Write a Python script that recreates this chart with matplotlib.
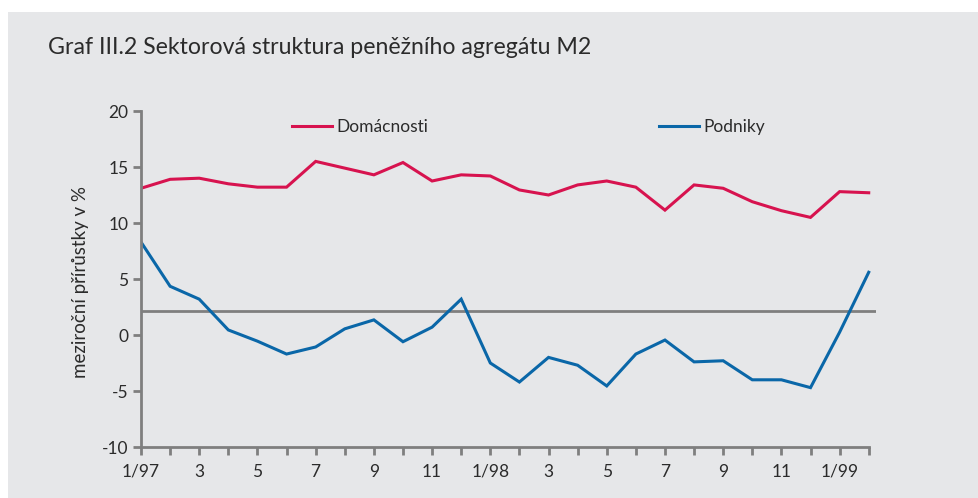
import matplotlib
matplotlib.use("Agg")
import matplotlib.pyplot as plt
from matplotlib.patches import Rectangle
from matplotlib.lines import Line2D

# months 1/97 .. 2/99
months = list(range(26))
tick_labels = ["1/97", "", "3", "", "5", "", "7", "", "9", "", "11", "",
               "1/98", "", "3", "", "5", "", "7", "", "9", "", "11", "",
               "1/99", ""]

domacnosti = [13.1, 13.9, 14.0, 13.5, 13.2, 13.2, 15.5, 14.9, 14.3, 15.4,
              13.75, 14.3, 14.2, 12.95, 12.5, 13.4, 13.75, 13.2, 11.15, 13.4,
              13.1, 11.9, 11.1, 10.5, 12.8, 12.7]
podniky = [8.3, 4.35, 3.2, 0.45, -0.55, -1.7, -1.07, 0.55, 1.35, -0.6,
           0.7, 3.2, -2.5, -4.2, -2.0, -2.7, -4.55, -1.7, -0.45, -2.4,
           -2.3, -4.0, -4.0, -4.7, 0.25, 5.6]
prumer = 2.1

bg = "#e6e7e9"
red = "#d7134f"
blue = "#0a67a8"
axcol = "#7f7f7f"
txt = "#2b2b2b"

plt.rcParams["font.family"] = ["Lato", "DejaVu Sans"]
plt.rcParams["axes.unicode_minus"] = False

fig = plt.figure(figsize=(9.79, 4.98), dpi=100, facecolor="white")
fig.patches.append(Rectangle((8 / 979, 0), 1, (498 - 12) / 498,
                             transform=fig.transFigure, facecolor=bg,
                             edgecolor="none", zorder=-10))

ax = fig.add_axes([141 / 979, 51 / 498, (876 - 141) / 979, (447 - 111) / 498])
ax.set_facecolor("none")

ax.axhline(prumer, color=axcol, linewidth=2)
ax.plot(months, domacnosti, color=red, linewidth=2.2, solid_joinstyle="miter")
ax.plot(months, podniky, color=blue, linewidth=2.2, solid_joinstyle="miter")

ax.set_xlim(0, 25.25)
ax.set_ylim(-10, 20)
ax.set_yticks([-10, -5, 0, 5, 10, 15, 20])
ax.set_xticks(months)
ax.set_xticklabels(tick_labels)

for s in ["top", "right"]:
    ax.spines[s].set_visible(False)
for s in ["left", "bottom"]:
    ax.spines[s].set_color(axcol)
    ax.spines[s].set_linewidth(2)
ax.spines["bottom"].set_bounds(0, 25)
ax.tick_params(axis="both", colors=axcol, width=2, length=6, labelcolor=txt,
               labelsize=12.5)
ax.tick_params(axis="x", pad=6)
ax.tick_params(axis="y", pad=3)

ax.set_ylabel("meziroční přírůstky v %", fontsize=13.5, color=txt)
ax.yaxis.set_label_coords(-0.071, 0.49)

handles = [Line2D([], [], color=red, linewidth=2.2),
           Line2D([], [], color=blue, linewidth=2.2)]
leg = ax.legend(handles, ["Domácnosti", "Podniky"], ncol=2, frameon=False,
                loc="center left", bbox_to_anchor=(0.2054, 0.953),
                borderpad=0, borderaxespad=0,
                fontsize=12.5, handlelength=2.3, handletextpad=0.25,
                columnspacing=13.3, labelcolor=txt)

fig.text(48 / 979, 1 - 48 / 498, "Graf III.2 Sektorová struktura peněžního agregátu M2",
         fontsize=16.7, color=txt, va="center", ha="left")

fig.savefig("out.png", dpi=100, facecolor="white")
